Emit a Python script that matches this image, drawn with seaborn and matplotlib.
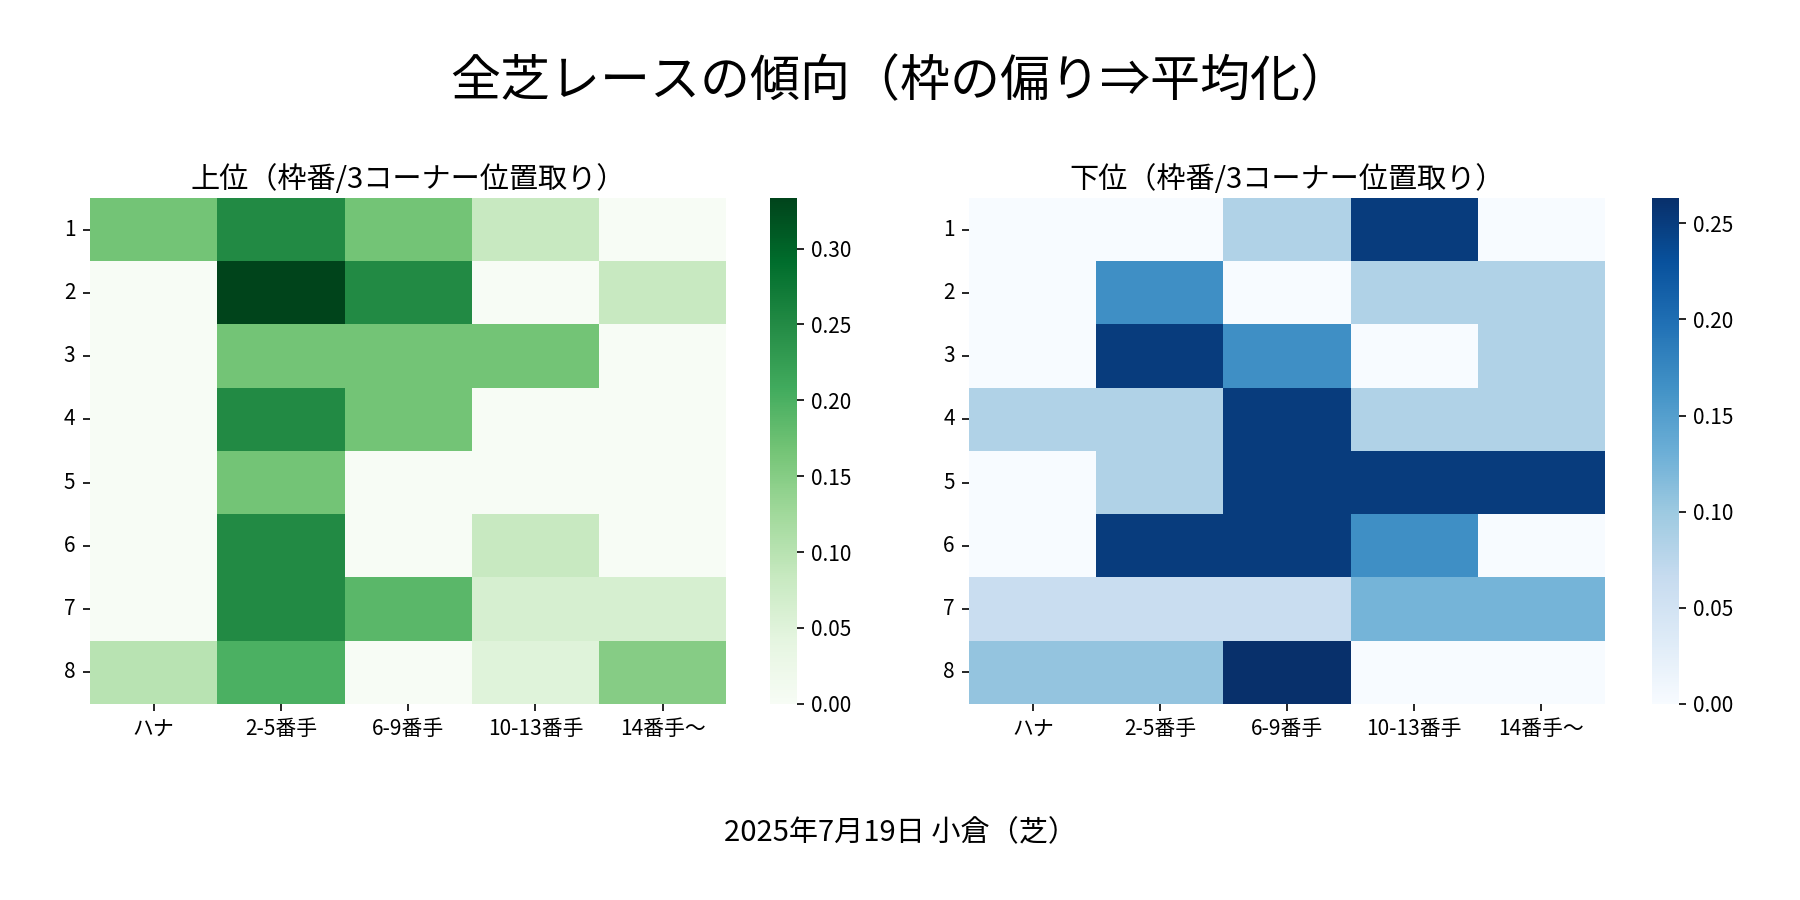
import matplotlib
matplotlib.use('Agg')
import matplotlib.pyplot as plt
import seaborn as sns
import numpy as np
import pandas as pd

# 枠番(1-8) x 3コーナー位置取り の割合
frames = ['1', '2', '3', '4', '5', '6', '7', '8']
positions = ['ハナ', '2-5番手', '6-9番手', '10-13番手', '14番手〜']

upper = [
    [0.1667, 0.25, 0.1667, 0.0833, 0.0],
    [0.0, 0.3333, 0.25, 0.0, 0.0833],
    [0.0, 0.1667, 0.1667, 0.1667, 0.0],
    [0.0, 0.25, 0.1667, 0.0, 0.0],
    [0.0, 0.1667, 0.0, 0.0, 0.0],
    [0.0, 0.25, 0.0, 0.0833, 0.0],
    [0.0, 0.25, 0.1875, 0.0625, 0.0625],
    [0.1, 0.2, 0.0, 0.05, 0.15],
]

lower = [
    [0.0, 0.0, 0.0833, 0.25, 0.0],
    [0.0, 0.1667, 0.0, 0.0833, 0.0833],
    [0.0, 0.25, 0.1667, 0.0, 0.0833],
    [0.0833, 0.0833, 0.25, 0.0833, 0.0833],
    [0.0, 0.0833, 0.25, 0.25, 0.25],
    [0.0, 0.25, 0.25, 0.1667, 0.0],
    [0.0625, 0.0625, 0.0625, 0.125, 0.125],
    [0.1053, 0.1053, 0.2632, 0.0, 0.0],
]

main_title = '全芝レースの傾向（枠の偏り⇒平均化）'
upper_title = '上位（枠番/3コーナー位置取り）'
lower_title = '下位（枠番/3コーナー位置取り）'
footer = '2025年7月19日 小倉（芝）'

plt.rcParams['font.family'] = ['Noto Sans CJK JP', 'DejaVu Sans']

df_upper = pd.DataFrame(upper, index=frames, columns=positions)
df_lower = pd.DataFrame(lower, index=frames, columns=positions)

fig = plt.figure(figsize=(12, 6), dpi=150)

ax1 = fig.add_axes([0.05, 0.218, 0.3535, 0.562])
cax1 = fig.add_axes([0.428, 0.218, 0.0145, 0.562])
ax2 = fig.add_axes([0.5385, 0.218, 0.353, 0.562])
cax2 = fig.add_axes([0.918, 0.218, 0.0145, 0.562])

sns.heatmap(df_upper, cmap='Greens', ax=ax1, cbar_ax=cax1)
sns.heatmap(df_lower, cmap='Blues', ax=ax2, cbar_ax=cax2)

for ax, t in [(ax1, upper_title), (ax2, lower_title)]:
    ax.set_title(t, fontsize=14, pad=5)
    ax.tick_params(axis='y', rotation=0)
    ax.tick_params(axis='x', rotation=0)
    ax.set_xlabel('')
    ax.set_ylabel('')

fig.suptitle(main_title, fontsize=24, y=0.937)
fig.text(0.5, 0.074, footer, ha='center', va='center', fontsize=14)

plt.savefig('out.png', dpi=150)
